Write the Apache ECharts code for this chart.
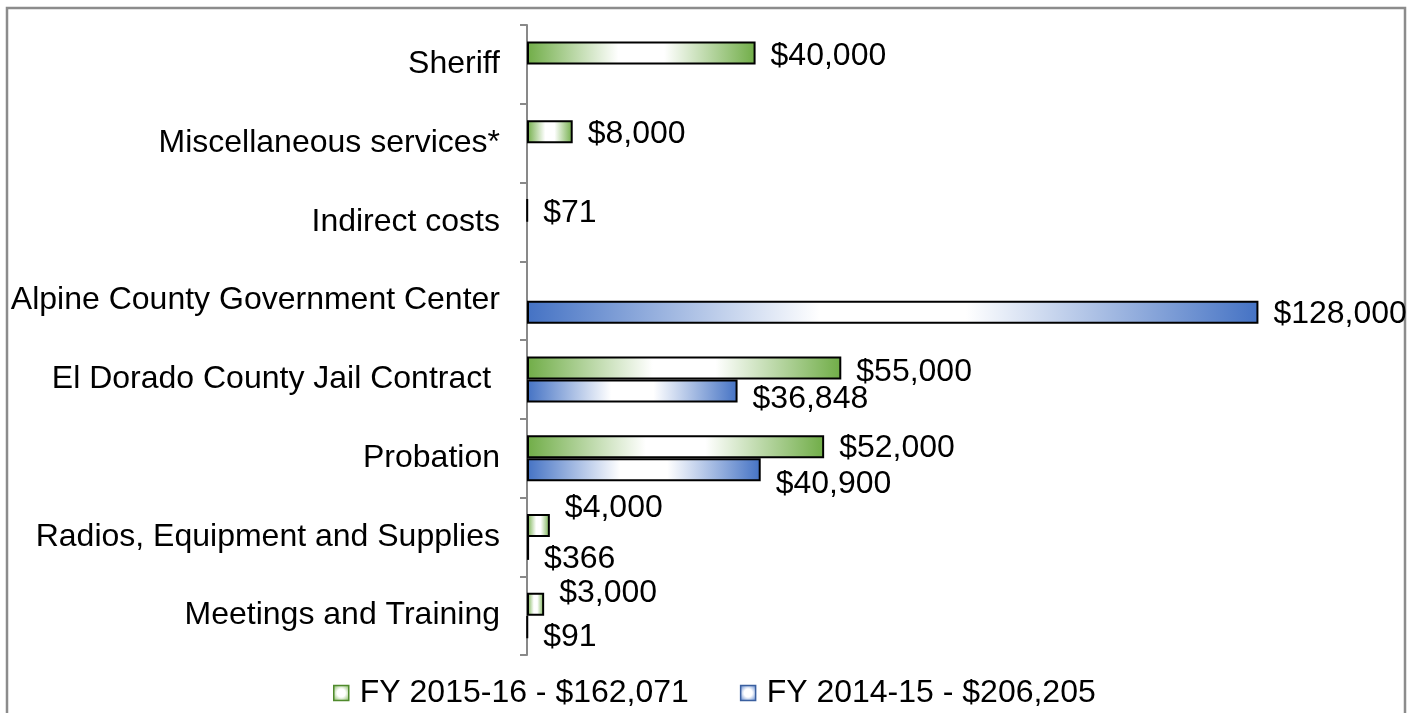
<!DOCTYPE html>
<html>
<head>
<meta charset="utf-8">
<title>Budget by category</title>
<script src="https://cdn.jsdelivr.net/npm/echarts@6/dist/echarts.min.js"></script>
<style>
  html, body { margin: 0; padding: 0; background: #fff; }
  #chart { width: 1413px; height: 713px; }
</style>
</head>
<body>
<div id="chart"></div>
<script>
// categories, top to bottom
var categories = [
  'Sheriff',
  'Miscellaneous services*',
  'Indirect costs',
  'Alpine County Government Center',
  'El Dorado County Jail Contract ',
  'Probation',
  'Radios, Equipment and Supplies',
  'Meetings and Training'
];

// '-' = no bar for that year
var fy1516 = [40000, 8000, 71, '-', 55000, 52000, 4000, 3000];
var fy1415 = ['-', '-', '-', 128000, 36848, 40900, 366, 91];

var seriesNames = ['FY 2015-16 - $162,071', 'FY 2014-15 - $206,205'];

// vertical nudge of each value label (px), the way Excel spread them out
var greenNudge = [3, 3, 3, 0, 4, 2, -17, -11];
var blueNudge = [0, 0, 0, 2, 8, 15, 11, 10];

var chart = echarts.init(document.getElementById('chart'));

function barFill(c) {
  return new echarts.graphic.LinearGradient(0, 0, 1, 0, [
    { offset: 0, color: c },
    { offset: 0.4, color: '#ffffff' },
    { offset: 0.6, color: '#ffffff' },
    { offset: 1, color: c }
  ]);
}

function iconFill(c) {
  return new echarts.graphic.RadialGradient(0.5, 0.5, 0.7, [
    { offset: 0, color: '#ffffff' },
    { offset: 0.35, color: '#ffffff' },
    { offset: 1, color: c }
  ]);
}

function money(p) {
  return '$' + Number(p.value).toLocaleString('en-US');
}

function withNudge(values, nudge) {
  return values.map(function (v, i) {
    return { value: v, label: { offset: [0, nudge[i]] } };
  });
}

var font = 'Liberation Sans, Arial, sans-serif';
var green = '#70AD47';
var blue = '#4472C4';

var valueLabel = {
  show: true,
  position: 'right',
  distance: 15,
  formatter: money,
  color: '#000',
  fontFamily: font,
  fontSize: 32
};

chart.setOption({
  animation: false,
  textStyle: { fontFamily: font },
  graphic: [{
    type: 'rect',
    shape: { x: 7, y: 8, width: 1398, height: 720 },
    style: { fill: 'none', stroke: '#8c8c8c', lineWidth: 2.5 },
    silent: true
  }],
  grid: { left: 527, right: 86, top: 25, bottom: 58 },
  legend: {
    left: 333,
    top: 677,
    padding: 0,
    itemWidth: 15,
    itemHeight: 15,
    itemGap: 51,
    icon: 'rect',
    textStyle: { fontFamily: font, fontSize: 32, lineHeight: 32, color: '#000', padding: [0, 0, 0, 6] },
    data: [
      { name: seriesNames[0], itemStyle: { color: iconFill(green), borderColor: '#4f8a2c', borderWidth: 1.5 } },
      { name: seriesNames[1], itemStyle: { color: iconFill(blue), borderColor: '#3a5f9f', borderWidth: 1.5 } }
    ]
  },
  xAxis: {
    type: 'value',
    min: 0,
    max: 140000,
    show: false
  },
  yAxis: {
    type: 'category',
    inverse: true,
    data: categories,
    axisLine: { show: true, lineStyle: { color: '#898989', width: 2 } },
    axisTick: { show: true, length: 7, lineStyle: { color: '#898989', width: 2 } },
    axisLabel: { margin: 27, color: '#000', fontFamily: font, fontSize: 32 }
  },
  series: [
    {
      name: seriesNames[0],
      type: 'bar',
      data: withNudge(fy1516, greenNudge),
      barWidth: 23,
      barGap: '0%',
      itemStyle: { color: barFill(green), borderColor: '#000', borderWidth: 2 },
      label: valueLabel
    },
    {
      name: seriesNames[1],
      type: 'bar',
      data: withNudge(fy1415, blueNudge),
      barWidth: 23,
      barGap: '0%',
      itemStyle: { color: barFill(blue), borderColor: '#000', borderWidth: 2 },
      label: valueLabel
    }
  ]
});
</script>
</body>
</html>
